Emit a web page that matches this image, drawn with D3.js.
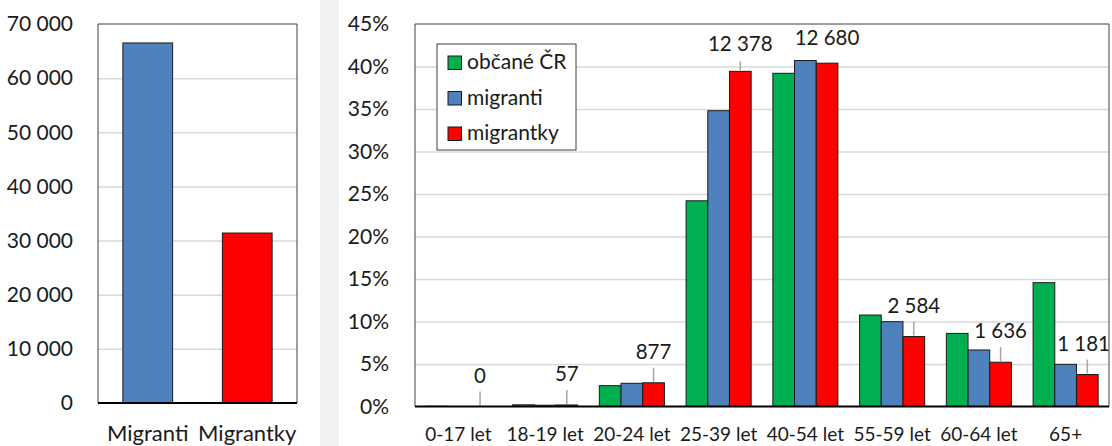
<!DOCTYPE html>
<html>
<head>
<meta charset="utf-8">
<script src="https://cdn.jsdelivr.net/npm/d3@7"></script>
<style>
  body { margin: 0; background: #fff; }
  text { font-family: Lato, "Open Sans", sans-serif; fill: #1a1a1a; }
</style>
</head>
<body>
<div id="chart"></div>
<script>
// data
const totalCats = ["Migranti", "Migrantky"]
const totalVals = [66500, 31393]
const totalTicks = [0, 10000, 20000, 30000, 40000, 50000, 60000, 70000]

const ageCats = ["0-17 let", "18-19 let", "20-24 let", "25-39 let", "40-54 let", "55-59 let", "60-64 let", "65+"]
const seriesNames = ["občané ČR", "migranti", "migrantky"]
const obcane = [0.03, 0.2, 2.45, 24.2, 39.2, 10.76, 8.6, 14.57]
const migranti = [0, 0.15, 2.73, 34.8, 40.7, 9.98, 6.65, 4.96]
const migrantky = [0, 0.18, 2.79, 39.43, 40.39, 8.23, 5.21, 3.76]
const migrantkyCounts = [0, 57, 877, 12378, 12680, 2584, 1636, 1181]
const pctTicks = [0, 5, 10, 15, 20, 25, 30, 35, 40, 45]

const colors = ["#00b050", "#4f81bd", "#ff0000"]
const W = 1112, H = 446

const loc = d3.formatLocale({ decimal: ",", thousands: " ", grouping: [3], currency: ["", ""] })
const fmt = loc.format(",")

const svg = d3.select("#chart").append("svg")
  .attr("width", W).attr("height", H)

// backgrounds
svg.append("rect").attr("x", 0).attr("y", 0).attr("width", W).attr("height", H).attr("fill", "#fff")
svg.append("rect").attr("x", 320).attr("y", 0).attr("width", 19).attr("height", H).attr("fill", "#f2f2f2")

/* LEFT CHART */
const L = { left: 98, right: 297, top: 24, bottom: 403 }
const yL = d3.scaleLinear().domain([0, 70000]).range([L.bottom, L.top])
const xL = d3.scaleBand().domain(totalCats).range([L.left, L.right])
  .paddingInner(0.5).paddingOuter(0.25)

// gridlines
svg.append("g")
  .attr("transform", `translate(${L.left},0)`)
  .call(d3.axisLeft(yL).tickValues(totalTicks.slice(1, -1)).tickSize(-(L.right - L.left)).tickFormat(""))
  .call(g => g.select(".domain").remove())
  .selectAll("line").attr("stroke", "#d9d9d9").attr("stroke-width", 1.5)

// tick labels
svg.append("g")
  .attr("transform", `translate(${L.left - 22},0)`)
  .call(d3.axisLeft(yL).tickValues(totalTicks).tickSize(0).tickFormat(fmt))
  .call(g => g.select(".domain").remove())
  .selectAll("text").attr("font-size", 21).attr("fill", "#1a1a1a")
  .style("font-family", "Lato, sans-serif")

svg.append("g").selectAll("rect")
  .data(totalVals)
  .join("rect")
    .attr("x", (d, i) => xL(totalCats[i]))
    .attr("y", d => yL(d))
    .attr("width", xL.bandwidth())
    .attr("height", d => yL(0) - yL(d))
    .attr("fill", (d, i) => colors[i + 1])
    .attr("stroke", "#1a1a1a").attr("stroke-width", 1)

// frame
svg.append("path")
  .attr("d", `M${L.left},${L.bottom}V${L.top}H${L.right}V${L.bottom}`)
  .attr("fill", "none").attr("stroke", "#404040").attr("stroke-width", 1)
svg.append("line")
  .attr("x1", L.left).attr("x2", L.right).attr("y1", L.bottom).attr("y2", L.bottom)
  .attr("stroke", "#000").attr("stroke-width", 2)

svg.append("g").selectAll("text")
  .data(totalCats)
  .join("text")
    .attr("x", d => xL(d) + xL.bandwidth() / 2)
    .attr("y", 441)
    .attr("text-anchor", "middle")
    .attr("font-size", 22)
    .text(d => d)

/* RIGHT CHART */
const R = { left: 415, right: 1109, top: 24, bottom: 406.5 }
const yR = d3.scaleLinear().domain([0, 45]).range([R.bottom, R.top])
const x0 = d3.scaleBand().domain(ageCats).range([R.left, R.right])
  .paddingInner(0.25).paddingOuter(0.125)
const x1 = d3.scaleBand().domain(seriesNames).range([0, x0.bandwidth()])

svg.append("g")
  .attr("transform", `translate(${R.left},0)`)
  .call(d3.axisLeft(yR).tickValues(pctTicks.slice(1, -1)).tickSize(-(R.right - R.left)).tickFormat(""))
  .call(g => g.select(".domain").remove())
  .selectAll("line").attr("stroke", "#d9d9d9").attr("stroke-width", 1.5)

svg.append("g")
  .attr("transform", `translate(${R.left - 23},0)`)
  .call(d3.axisLeft(yR).tickValues(pctTicks).tickSize(0).tickFormat(d => d + "%"))
  .call(g => g.select(".domain").remove())
  .selectAll("text").attr("font-size", 21).attr("fill", "#1a1a1a")
  .style("font-family", "Lato, sans-serif")

const rows = ageCats.map((c, i) => ({
  cat: c,
  vals: [obcane[i], migranti[i], migrantky[i]]
}))

svg.append("g").selectAll("g")
  .data(rows)
  .join("g")
    .attr("transform", d => `translate(${x0(d.cat)},0)`)
  .selectAll("rect")
  .data(d => d.vals.map((v, j) => ({ v, s: seriesNames[j], j })))
  .join("rect")
    .attr("x", d => x1(d.s))
    .attr("y", d => yR(d.v))
    .attr("width", x1.bandwidth())
    .attr("height", d => yR(0) - yR(d.v))
    .attr("fill", d => colors[d.j])
    .attr("stroke", "#1a1a1a").attr("stroke-width", 1)

// data labels for migrantky with leader lines
const lab = svg.append("g")
migrantkyCounts.forEach((n, i) => {
  const cx = x0(ageCats[i]) + x1("migrantky") + x1.bandwidth() / 2
  const top = yR(migrantky[i])
  const lead = i !== 4
  if (lead) {
    lab.append("line")
      .attr("x1", cx).attr("x2", cx)
      .attr("y1", top - (i === 3 ? 10 : 15)).attr("y2", top - 1)
      .attr("stroke", "#a6a6a6").attr("stroke-width", 1.5)
  }
  const t = lab.append("text")
    .attr("x", cx)
    .attr("y", top - (lead ? (i === 3 ? 20 : 24) : 18))
    .attr("text-anchor", "middle")
    .attr("font-size", 20.5)
    .text(fmt(n))
  // keep the last label inside the picture
  const half = t.node().getComputedTextLength() / 2
  if (cx + half > W - 2) t.attr("x", W - 2 - half)
})

svg.append("path")
  .attr("d", `M${R.left},${R.bottom}V${R.top}H${R.right}V${R.bottom}`)
  .attr("fill", "none").attr("stroke", "#404040").attr("stroke-width", 1)
svg.append("line")
  .attr("x1", R.left).attr("x2", R.right).attr("y1", R.bottom).attr("y2", R.bottom)
  .attr("stroke", "#000").attr("stroke-width", 2)

svg.append("g").selectAll("text")
  .data(ageCats)
  .join("text")
    .attr("x", d => x0(d) + x0.bandwidth() / 2)
    .attr("y", 441)
    .attr("text-anchor", "middle")
    .attr("font-size", 19)
    .text(d => d)

// legend
const leg = svg.append("g").attr("transform", "translate(437,44)")
leg.append("rect")
  .attr("width", 139).attr("height", 106)
  .attr("fill", "#fff").attr("stroke", "#404040").attr("stroke-width", 1)
const items = leg.selectAll("g.item")
  .data(seriesNames)
  .join("g")
    .attr("class", "item")
    .attr("transform", (d, i) => `translate(11,${12 + i * 35.5})`)
items.append("rect")
  .attr("width", 13.5).attr("height", 13.5)
  .attr("fill", (d, i) => colors[i])
  .attr("stroke", "#1a1a1a").attr("stroke-width", 1)
items.append("text")
  .attr("x", 19).attr("y", 13)
  .attr("font-size", 21)
  .text(d => d)
</script>
</body>
</html>
